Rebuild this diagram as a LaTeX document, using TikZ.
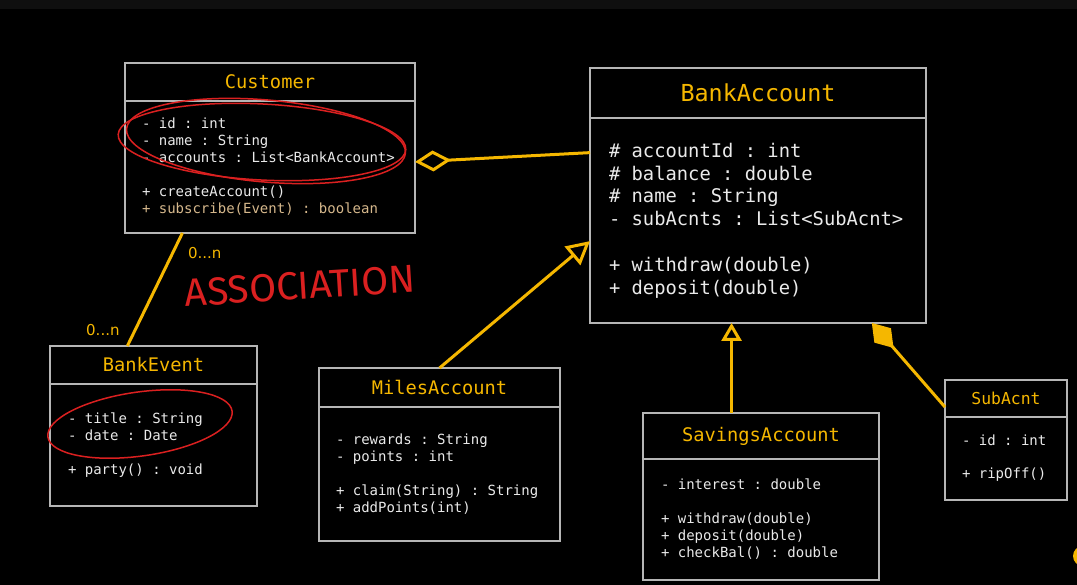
\documentclass[tikz,border=0pt]{standalone}
\usepackage{fontspec}
\setmonofont{DejaVu Sans Mono}
\newfontfamily\notefont{DejaVu Sans}
\newfontfamily\handfont{Fira Sans}
\usetikzlibrary{positioning,arrows.meta}

\definecolor{umlyellow}{RGB}{245,183,0}
\definecolor{boxgray}{RGB}{182,182,182}
\definecolor{bodytext}{RGB}{234,234,234}
\definecolor{methodtan}{RGB}{214,184,140}
\definecolor{penred}{RGB}{218,32,32}
\definecolor{topbar}{RGB}{15,15,15}

\tikzset{
  classhead/.style={draw=boxgray, line width=2.5pt, text=umlyellow, inner sep=0pt, outer sep=0pt,
    anchor=north west, font=\ttfamily\fontsize{18.7}{22}\selectfont},
  classbody/.style={draw=boxgray, line width=2.5pt, text=bodytext, align=flush left, inner ysep=0pt,
    outer sep=0pt, font=\ttfamily\fontsize{14}{17}\selectfont,
    execute at begin node={\spaceskip=0pt\xspaceskip=0pt\relax}},
  link/.style={umlyellow, line width=3pt},
  aggreg/.style={link, {Diamond[open, length=36pt, width=21pt]}-},
  compose/.style={link, {Diamond[length=33pt, width=22pt]}-},
  inherit/.style={link, -{Triangle[open, length=23pt, width=24pt]}},
  mult/.style={text=umlyellow, font=\notefont\fontsize{15}{18}\selectfont, inner sep=0pt},
  pen/.style={penred, line width=1.5pt}
}

\begin{document}
\begin{tikzpicture}[x=1pt, y=-1pt]
% canvas
\fill[black] (0,0) rectangle (1077,585);
\useasboundingbox (0,0) rectangle (1077,585);
\fill[topbar] (0,0) rectangle (1077,9);

% Customer
\node[classhead, minimum width=290pt, minimum height=38pt] (cust) at (125,63) {Customer};
\node[classbody, below=0pt of cust, minimum width=290pt, minimum height=132pt,
  inner xsep=17pt, text width=256pt] (custbody)
  {- id : int\\ - name : String\\ - accounts : List<BankAccount>\\[17pt]
   + createAccount()\\ \textcolor{methodtan}{+ subscribe(Event) : boolean}};

% BankAccount
\node[classhead, minimum width=336pt, minimum height=50pt,
  font=\ttfamily\fontsize{23.4}{27}\selectfont] (bank) at (590,68) {BankAccount};
\node[classbody, below=0pt of bank, minimum width=336pt, minimum height=205pt,
  inner xsep=19pt, text width=298pt, font=\ttfamily\fontsize{18.8}{22.8}\selectfont] (bankbody)
  {\# accountId : int\\ \# balance : double\\ \# name : String\\ - subAcnts : List<SubAcnt>\\[22.8pt]
   + withdraw(double)\\ + deposit(double)};

% BankEvent
\node[classhead, minimum width=207pt, minimum height=38pt] (bev) at (50,346) {BankEvent};
\node[classbody, below=0pt of bev, minimum width=207pt, minimum height=122pt,
  inner xsep=18pt, text width=171pt] (bevbody)
  {- title : String\\ - date : Date\\[17pt] + party() : void};

% MilesAccount
\node[classhead, minimum width=241pt, minimum height=39pt] (miles) at (319,368) {MilesAccount};
\node[classbody, below=0pt of miles, minimum width=241pt, minimum height=134pt,
  inner xsep=17pt, text width=207pt] (milesbody)
  {- rewards : String\\ - points : int\\[17pt] + claim(String) : String\\ + addPoints(int)};

% SavingsAccount
\node[classhead, minimum width=236pt, minimum height=46pt] (sav) at (643,413) {SavingsAccount};
\node[classbody, below=0pt of sav, minimum width=236pt, minimum height=121pt,
  inner xsep=18pt, text width=200pt] (savbody)
  {- interest : double\\[17pt] + withdraw(double)\\ + deposit(double)\\ + checkBal() : double};

% SubAcnt
\node[classhead, minimum width=122pt, minimum height=37pt,
  font=\ttfamily\fontsize{16.4}{20}\selectfont] (sub) at (945,380) {SubAcnt};
\node[classbody, below=0pt of sub, minimum width=122pt, minimum height=83pt,
  inner xsep=17pt, text width=88pt] (subbody)
  {- id : int\\[16pt] + ripOff()};

% relations
\draw[aggreg] (custbody.2) -- (bankbody.158);
\draw[link] (custbody.217) -- node[mult, pos=0.18, right=14pt] (multtop) {0...n}
  node[mult, pos=0.86, left=14pt] (multbot) {0...n} (bev.144);
\draw[inherit] (miles.north) -- (bankbody.187);
\draw[inherit, -{Triangle[open, length=18pt, width=20pt]}] (sav.142) -- (sav.142 |- bankbody.south);
\draw[compose] (bankbody.318) -- (sub.188);

% red notes
\draw[pen, rotate around={-3:(262,142)}] (262,142) ellipse [x radius=144, y radius=38];
\draw[pen, rotate around={-5:(266,141)}] (266,141) ellipse [x radius=140, y radius=41];
\draw[pen, rotate around={8:(140,424)}] (140,424) ellipse [x radius=93, y radius=32];
\node[text=penred, font=\handfont\fontsize{39}{43}\selectfont, rotate=3.5, inner sep=0pt] (assoc)
  at (300,286) {ASSOCIATION};

% edge of a yellow mark
\fill[umlyellow] (1083,556) circle (10);
\end{tikzpicture}
\end{document}
